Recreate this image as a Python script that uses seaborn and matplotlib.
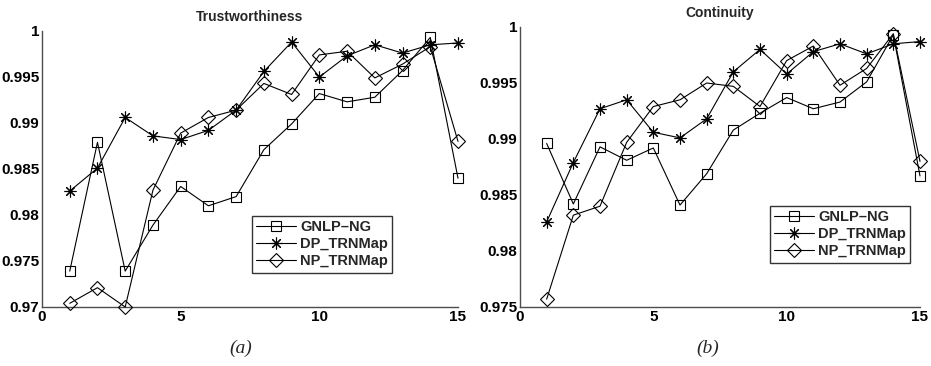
import numpy as np
import pandas as pd
import matplotlib
matplotlib.use("Agg")
import matplotlib.pyplot as plt
import seaborn as sns

sns.set_style("white")
plt.rcParams['font.family'] = ['Liberation Sans', 'DejaVu Sans']

x_vals = list(range(1, 16))
series_names = ["GNLP\u2013NG", "DP_TRNMap", "NP_TRNMap"]

# Trustworthiness
trust_gnlp = [0.9739, 0.9879, 0.9739, 0.9789, 0.9831, 0.9810, 0.9820, 0.9871,
              0.9899, 0.9932, 0.9923, 0.9928, 0.9957, 0.9993, 0.9840]
trust_dp = [0.9826, 0.9851, 0.9906, 0.9886, 0.9882, 0.9892, 0.9914, 0.9956,
            0.9988, 0.9950, 0.9973, 0.9985, 0.9976, 0.9985, 0.9987]
trust_np = [0.9704, 0.9721, 0.9700, 0.9827, 0.9889, 0.9906, 0.9914, 0.9943,
            0.9931, 0.9974, 0.9978, 0.9949, 0.9964, 0.9983, 0.9880]

# Continuity
cont_gnlp = [0.9896, 0.9842, 0.9893, 0.9881, 0.9892, 0.9841, 0.9869, 0.9908,
             0.9923, 0.9937, 0.9927, 0.9933, 0.9951, 0.9993, 0.9867]
cont_dp = [0.9826, 0.9879, 0.9927, 0.9935, 0.9906, 0.9901, 0.9918, 0.9960,
           0.9980, 0.9958, 0.9978, 0.9985, 0.9976, 0.9985, 0.9987]
cont_np = [0.9757, 0.9832, 0.9840, 0.9897, 0.9929, 0.9935, 0.9950, 0.9947,
           0.9929, 0.9970, 0.9983, 0.9948, 0.9963, 0.9994, 0.9880]

titles = ["Trustworthiness", "Continuity"]
captions = ["(a)", "(b)"]
x_ticks = [0, 5, 10, 15]
trust_yticks = [0.97, 0.975, 0.98, 0.985, 0.99, 0.995, 1.0]
trust_yticklabels = ["0.97", "0.975", "0.98", "0.985", "0.99", "0.995", "1"]
cont_yticks = [0.975, 0.98, 0.985, 0.99, 0.995, 1.0]
cont_yticklabels = ["0.975", "0.98", "0.985", "0.99", "0.995", "1"]

markers = {"GNLP\u2013NG": "s", "DP_TRNMap": (8, 2, 0), "NP_TRNMap": "D"}
msizes = {"GNLP\u2013NG": 7.5, "DP_TRNMap": 8.5, "NP_TRNMap": 7}

fig = plt.figure(figsize=(9.31, 3.66), dpi=100)
ax1 = fig.add_axes([42/931, 1-307/366, 416/931, 276/366])
ax2 = fig.add_axes([520/931, 1-307/366, 400/931, 280/366])

panels = [
    (ax1, [trust_gnlp, trust_dp, trust_np], (0.97, 1.0), trust_yticks, trust_yticklabels,
     (0.505, 0.33)),
    (ax2, [cont_gnlp, cont_dp, cont_np], (0.975, 1.0), cont_yticks, cont_yticklabels,
     (0.625, 0.361)),
]

for i, (ax, data, ylim, yt, ytl, legpos) in enumerate(panels):
    for name, vals in zip(series_names, data):
        df = pd.DataFrame({"x": x_vals, "y": vals})
        sns.lineplot(data=df, x="x", y="y", ax=ax, color="black", linewidth=0.8,
                     marker=markers[name], markersize=msizes[name],
                     markerfacecolor="none", markeredgecolor="black",
                     markeredgewidth=0.8, label=name, clip_on=False, zorder=3)
    ax.set_xlim(0, 15)
    ax.set_ylim(*ylim)
    ax.set_xticks(x_ticks)
    ax.set_xticklabels([str(t) for t in x_ticks], fontweight="bold", fontsize=11)
    ax.set_yticks(yt)
    ax.set_yticklabels(ytl, fontweight="bold", fontsize=11)
    ax.set_xlabel("")
    ax.set_ylabel("")
    ax.tick_params(direction="in", length=3.5, width=0.8, colors="0.3",
                   labelcolor="black", pad=2)
    for s in ["top", "right"]:
        ax.spines[s].set_visible(False)
    for s in ["left", "bottom"]:
        ax.spines[s].set_color("0.3")
        ax.spines[s].set_linewidth(1.0)
    ax.set_title(titles[i], fontweight="bold", fontsize=10, pad=7)
    leg = ax.legend(loc="upper left", bbox_to_anchor=legpos, borderaxespad=0,
                    frameon=True, fancybox=False, edgecolor="black",
                    prop={"weight": "bold", "size": 10.5}, handlelength=2.7,
                    handletextpad=0.3, labelspacing=0.2, borderpad=0.3)
    leg.get_frame().set_linewidth(1.0)
    leg.set_zorder(5)

fig.text(241/931, 1-348/366, "(a)", ha="center", va="center",
         family="Liberation Serif", style="italic", fontsize=14)
fig.text(708/931, 1-348/366, "(b)", ha="center", va="center",
         family="Liberation Serif", style="italic", fontsize=14)

fig.savefig("out.png", dpi=100)
